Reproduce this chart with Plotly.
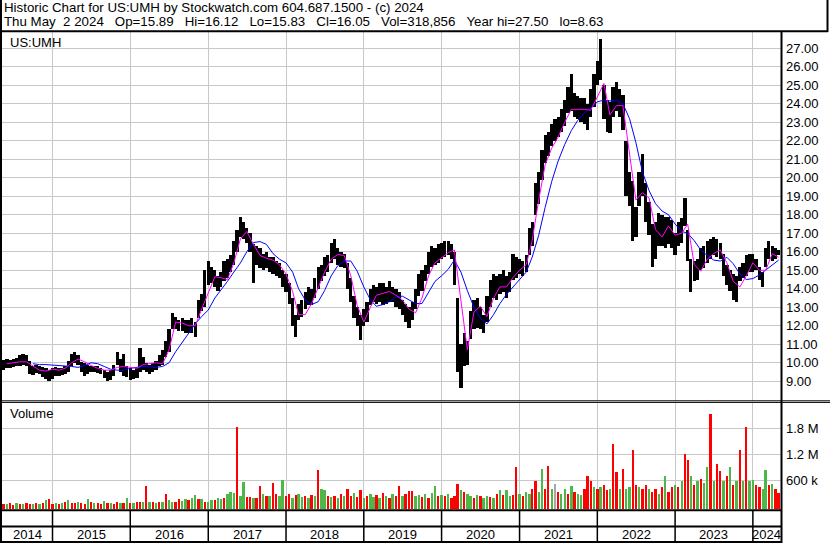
import plotly.graph_objects as go
import datetime as _dt

# ---------------- data ----------------
# semi-monthly periods from 2014-05-16 to 2024-05-01 (240 periods)
period_dates = []
_y, _m, _d = 2014, 5, 16
while (_y, _m, _d) <= (2024, 5, 1):
    period_dates.append(f"{_y:04d}-{_m:02d}-{_d:02d}")
    if _d == 1:
        _d = 16
    else:
        _d = 1
        _m += 1
        if _m == 13:
            _m, _y = 1, _y + 1

high_2014 = [10.15, 10.2, 10.15, 10.2, 10.25, 10.4, 10.45, 10.4, 10.1, 9.8, 9.9, 9.85, 9.75, 9.7, 9.6]
low_2014 = [9.6, 9.7, 9.7, 9.75, 9.8, 9.85, 9.9, 9.85, 9.4, 9.35, 9.45, 9.4, 9.25, 9.1, 9.0]
high_2015 = [9.7, 9.75, 9.7, 9.7, 9.8, 10.1, 10.5, 10.6, 10.4, 10.05, 10.0, 9.9, 9.8, 9.85, 9.8, 9.7, 9.6, 9.5, 9.6, 9.9, 10.6, 10.2, 10.5, 9.8]
low_2015 = [9.1, 9.3, 9.3, 9.35, 9.4, 9.5, 9.8, 10.0, 9.9, 9.5, 9.3, 9.4, 9.5, 9.5, 9.45, 9.4, 9.2, 9.0, 9.05, 9.3, 9.9, 9.5, 9.3, 9.25]
high_2016 = [9.7, 9.6, 9.7, 10.8, 10.3, 10.0, 9.9, 10.0, 10.1, 10.4, 10.7, 11.2, 11.8, 12.7, 12.5, 12.3, 12.4, 12.3, 12.3, 12.4, 12.2, 13.4, 13.7, 15.0]
low_2016 = [9.05, 9.1, 9.2, 9.5, 9.6, 9.5, 9.4, 9.5, 9.6, 9.8, 9.9, 10.3, 10.6, 11.8, 11.8, 11.7, 11.7, 11.6, 11.6, 11.6, 11.4, 12.4, 12.8, 13.0]
high_2017 = [15.5, 15.2, 15.0, 14.7, 14.9, 15.5, 15.6, 15.8, 16.6, 17.2, 17.9, 17.6, 17.3, 17.0, 16.4, 16.3, 16.2, 15.9, 16.0, 15.7, 15.7, 15.5, 15.4, 15.0]
low_2017 = [14.2, 14.3, 14.1, 13.9, 14.1, 14.4, 14.6, 14.9, 15.3, 16.0, 16.8, 16.7, 16.5, 16.0, 14.3, 15.3, 15.1, 15.0, 15.1, 14.9, 14.8, 14.7, 14.6, 14.1]
high_2018 = [14.8, 14.3, 13.5, 12.6, 13.2, 13.4, 13.8, 14.1, 14.0, 14.6, 15.2, 15.3, 15.7, 15.8, 16.5, 16.7, 16.2, 16.0, 15.9, 15.4, 14.6, 13.6, 13.0, 12.6]
low_2018 = [13.8, 13.2, 12.0, 11.4, 12.3, 12.5, 12.9, 13.1, 13.1, 13.5, 14.0, 14.4, 14.7, 14.9, 15.4, 15.6, 15.3, 15.2, 15.1, 14.0, 13.3, 12.4, 12.0, 11.25]
high_2019 = [12.9, 13.3, 14.0, 14.2, 14.1, 14.3, 14.3, 14.1, 14.4, 14.1, 14.0, 13.8, 13.4, 13.2, 13.0, 13.3, 14.0, 14.8, 15.0, 15.3, 16.0, 16.3, 16.2, 16.4]
low_2019 = [12.0, 12.2, 13.1, 13.3, 13.2, 13.3, 13.1, 13.2, 13.3, 13.3, 13.0, 12.9, 12.6, 12.2, 11.9, 12.3, 12.9, 13.6, 13.9, 14.4, 14.8, 15.2, 15.3, 15.4]
high_2020 = [16.5, 16.6, 16.6, 16.4, 16.0, 13.5, 11.0, 11.6, 11.2, 12.8, 13.4, 13.5, 13.0, 12.6, 13.6, 14.5, 14.8, 14.7, 14.8, 15.0, 14.7, 14.9, 15.9, 15.7]
low_2020 = [15.6, 15.7, 15.8, 15.6, 14.2, 9.5, 8.63, 9.8, 9.9, 11.3, 11.8, 11.9, 11.8, 11.6, 12.2, 13.0, 13.5, 13.4, 13.7, 13.8, 13.5, 13.8, 14.5, 14.6]
high_2021 = [15.6, 15.5, 15.8, 17.3, 17.6, 19.7, 20.3, 21.5, 22.3, 22.5, 22.9, 23.2, 23.3, 23.7, 24.2, 24.9, 25.6, 24.6, 24.4, 24.3, 24.3, 24.0, 24.8, 25.6]
low_2021 = [14.8, 14.7, 14.9, 15.8, 16.3, 18.0, 18.6, 19.9, 20.8, 21.2, 21.7, 22.0, 22.2, 22.5, 22.8, 23.5, 23.6, 23.3, 23.2, 23.0, 22.9, 22.6, 23.3, 23.8]
high_2022 = [26.3, 27.5, 25.0, 24.2, 24.1, 24.9, 25.2, 24.8, 24.5, 22.0, 20.3, 19.8, 18.4, 20.3, 21.3, 19.7, 18.7, 17.5, 17.6, 18.1, 18.0, 17.9, 17.9, 17.7]
low_2022 = [25.0, 25.3, 23.2, 22.5, 22.4, 23.3, 23.6, 23.3, 22.6, 19.0, 18.5, 16.6, 16.8, 18.5, 19.0, 17.6, 16.9, 15.2, 15.6, 16.3, 16.3, 16.2, 16.4, 16.2]
high_2023 = [17.0, 17.6, 17.8, 18.9, 17.2, 15.6, 15.5, 15.6, 16.2, 16.3, 16.6, 16.7, 16.8, 16.7, 16.5, 15.9, 15.3, 15.0, 14.8, 14.7, 15.2, 15.4, 15.8, 15.9]
low_2023 = [15.8, 16.3, 16.5, 17.4, 15.5, 13.8, 14.4, 14.5, 15.0, 15.1, 15.4, 15.6, 15.8, 15.7, 15.6, 14.7, 14.2, 13.9, 13.4, 13.3, 14.4, 14.6, 14.7, 14.9]
high_2024 = [15.9, 15.6, 15.2, 14.9, 16.2, 16.6, 16.3, 16.2, 16.12]
low_2024 = [14.9, 15.0, 14.5, 14.1, 15.2, 15.6, 15.5, 15.6, 15.83]

price_high = (high_2014 + high_2015 + high_2016 + high_2017 + high_2018 + high_2019
              + high_2020 + high_2021 + high_2022 + high_2023 + high_2024)
price_low = (low_2014 + low_2015 + low_2016 + low_2017 + low_2018 + low_2019
             + low_2020 + low_2021 + low_2022 + low_2023 + low_2024)

# volume in thousands of shares, and bar colour code (G up, R down, Y unchanged)
vol_2014 = [70, 60, 80, 50, 90, 60, 70, 80, 60, 70, 90, 60, 80, 150, 180]
vol_2015 = [60, 80, 70, 90, 100, 160, 90, 80, 100, 90, 70, 180, 120, 80, 90, 70, 130, 80, 90, 70, 110, 90, 80, 200]
vol_2016 = [90, 80, 100, 110, 100, 490, 100, 120, 90, 110, 120, 300, 150, 120, 110, 180, 130, 180, 150, 200, 280, 180, 180, 120]
vol_2017 = [110, 150, 160, 200, 180, 200, 300, 340, 330, 1840, 250, 580, 220, 230, 200, 200, 470, 300, 250, 250, 560, 300, 250, 620]
vol_2018 = [250, 300, 200, 280, 300, 220, 250, 200, 280, 260, 860, 420, 380, 250, 220, 260, 200, 300, 240, 420, 260, 320, 220, 380]
vol_2019 = [200, 250, 300, 220, 280, 200, 320, 250, 200, 300, 250, 490, 260, 300, 360, 360, 250, 280, 220, 300, 200, 330, 470, 250]
vol_2020 = [280, 250, 300, 200, 250, 520, 390, 350, 300, 250, 200, 280, 250, 200, 250, 230, 200, 300, 380, 280, 380, 250, 280, 920]
vol_2021 = [300, 250, 350, 300, 420, 590, 350, 880, 400, 950, 400, 530, 350, 300, 400, 300, 470, 350, 300, 280, 400, 700, 590, 450]
vol_2022 = [400, 450, 500, 380, 400, 1440, 800, 400, 880, 400, 450, 1320, 500, 450, 400, 500, 420, 350, 400, 300, 450, 700, 350, 450]
vol_2023 = [500, 450, 600, 1210, 1080, 700, 500, 600, 650, 550, 930, 2130, 600, 980, 820, 600, 700, 920, 500, 600, 1300, 600, 1840, 600]
vol_2024 = [620, 500, 450, 400, 840, 500, 530, 400, 319]
volume_k = (vol_2014 + vol_2015 + vol_2016 + vol_2017 + vol_2018 + vol_2019
            + vol_2020 + vol_2021 + vol_2022 + vol_2023 + vol_2024)
vol_dir = ("RGRRGRGRRGRGRGR"
           "RGRGRGRRGRRGRGRRGRGRRGRG"
           "RGRRGRGRGRGRGGRRGGRGGRGR"
           "GGRGGRGGGRGGRRGRRGRGRRGG"
           "RRGRGGRGRGRGGRGRGRGRRGRR"
           "GRGGRGRGRGRRGRRRGGRGRGGR"
           "GRGRRRGRGGRGRGGRGRGRGGRR"
           "GRGGRRGGRRGYRGGRGRGGRRRG"
           "RGRRGRRGRGGRRGRRGRRGRGRR"
           "GRGRRGRGRGGRGRRGRGRGRGRG"
           "GRRGGRGRR")

# monthly moving-average readings
ma_long_dates = ["2014-10-01", "2014-11-01", "2014-12-01"] + [
    f"{yy}-{mm:02d}-01" for yy in range(2015, 2025) for mm in range(1, 13) if (yy, mm) <= (2024, 5)]
ma_long = [9.95, 9.9, 9.9,
           9.88, 9.87, 9.85, 9.8, 9.75, 9.85, 10.0, 9.95, 9.8, 9.65, 9.6, 9.6,
           9.7, 9.75, 9.8, 9.78, 9.75, 9.8, 10.0, 10.6, 11.1, 11.6, 12.1, 12.5,
           12.85, 13.5, 13.9, 14.4, 14.9, 15.4, 16.0, 16.5, 16.55, 16.4, 15.9, 15.6,
           15.4, 14.9, 14.0, 13.4, 13.15, 13.3, 13.9, 14.7, 15.25, 15.5, 15.5, 14.95,
           14.1, 13.4, 13.05, 13.15, 13.3, 13.55, 13.6, 13.4, 13.2, 13.2, 13.8, 14.4,
           14.7, 15.05, 15.55, 14.9, 13.9, 13.0, 12.4, 12.1, 12.6, 13.2, 13.7, 14.1,
           14.5, 14.9, 15.7, 16.9, 18.4, 19.8, 20.9, 21.8, 22.55, 23.1, 23.5, 23.8,
           24.1, 24.2, 24.15, 24.2, 24.0, 23.2, 21.9, 20.3, 19.3, 18.6, 18.2, 18.0,
           17.5, 17.1, 17.0, 16.6, 16.1, 15.8, 15.55, 15.5, 15.7, 15.35, 14.8, 14.5,
           14.55, 14.75, 15.0, 15.25, 15.55]
ma_short_dates = ["2014-06-01", "2014-07-01", "2014-08-01", "2014-09-01", "2014-10-01",
                  "2014-11-01", "2014-12-01"] + ma_long_dates[3:]
ma_short = [9.95, 10.0, 10.05, 10.05, 9.85, 9.6, 9.55,
            9.65, 9.6, 9.7, 10.0, 10.2, 10.05, 9.85, 9.7, 9.6, 9.6, 9.75, 9.8,
            9.75, 9.7, 9.9, 9.95, 10.0, 9.95, 10.7, 12.2, 12.15, 12.0, 12.0, 12.9,
            13.8, 14.65, 14.6, 14.5, 15.4, 16.7, 17.1, 16.4, 15.8, 15.65, 15.55, 15.3,
            14.8, 13.85, 12.6, 12.6, 13.2, 14.1, 14.9, 15.6, 15.85, 15.8, 14.7, 13.1,
            12.2, 13.0, 13.65, 13.75, 13.85, 13.65, 13.4, 12.9, 12.7, 13.5, 14.7, 15.4,
            15.7, 15.95, 16.1, 13.3, 10.7, 12.75, 13.05, 12.5, 13.5, 14.1, 14.1, 14.6,
            15.0, 15.3, 16.6, 18.8, 20.7, 21.6, 22.2, 23.0, 23.7, 23.7, 23.7, 23.65,
            24.4, 25.1, 23.4, 23.9, 23.9, 21.3, 18.8, 19.2, 18.9, 17.2, 16.8, 17.4,
            16.9, 17.0, 17.5, 15.3, 14.95, 15.6, 15.9, 16.1, 15.4, 14.4, 14.1, 14.7,
            15.4, 15.0, 15.0, 15.9, 15.7]

price_ticks = list(range(9, 28))
vol_ticks = [600, 1200, 1800]
vol_tick_text = ["600 k", "1.2 M", "1.8 M"]
year_labels = [str(y) for y in range(2014, 2025)]

header_1 = "Historic Chart for US:UMH by Stockwatch.com 604.687.1500 - (c) 2024"
header_2 = ("Thu May\u00a0\u00a02 2024\u00a0\u00a0\u00a0Op=15.89\u00a0\u00a0\u00a0Hi=16.12\u00a0\u00a0\u00a0"
            "Lo=15.83\u00a0\u00a0\u00a0Cl=16.05\u00a0\u00a0\u00a0Vol=318,856\u00a0\u00a0\u00a0"
            "Year hi=27.50\u00a0\u00a0\u00a0lo=8.63")

# ---------------- figure ----------------
W, H = 830, 543
ML, MR, MT, MB = 2, 49, 32, 34
PW, PH = W - ML - MR, H - MT - MB
X_START, X_END = "2014-05-09", "2024-05-12"
DAY = 86400000
VOL_BASE = -62
FONT = "Liberation Sans, Arial, sans-serif"
GRID = "#c8c8c8"


def px_x(X):
    return (X - ML) / PW


def px_y(Y):
    return (H - MB - Y) / PH


fig = go.Figure()
fig.add_trace(go.Bar(
    x=period_dates, y=[h - l for h, l in zip(price_high, price_low)], base=price_low,
    width=15.2 * DAY, marker=dict(color="black", line=dict(width=0)),
    xaxis="x", yaxis="y", hoverinfo="skip"))
fig.add_trace(go.Scatter(x=ma_long_dates, y=ma_long, mode="lines",
                         line=dict(color="#0000ff", width=1), xaxis="x", yaxis="y"))
fig.add_trace(go.Scatter(x=ma_short_dates, y=ma_short, mode="lines",
                         line=dict(color="#ff00ff", width=1), xaxis="x", yaxis="y"))
cmap = {"G": "#4cb848", "R": "#ff0000", "Y": "#a8a8a8"}
fig.add_trace(go.Bar(
    x=period_dates, y=[v - VOL_BASE for v in volume_k], base=VOL_BASE,
    width=11 * DAY, marker=dict(color=[cmap[c] for c in vol_dir], line=dict(width=0)),
    xaxis="x2", yaxis="y2", hoverinfo="skip"))

year_starts = [f"{y}-01-01" for y in range(2015, 2025)]
axis_common = dict(type="date", range=[X_START, X_END], tickvals=year_starts,
                   showticklabels=False, showgrid=True, gridcolor=GRID, gridwidth=1,
                   zeroline=False, showline=False, ticks="")
fig.update_layout(
    width=W, height=H, margin=dict(l=ML, r=MR, t=MT, b=MB),
    paper_bgcolor="white", plot_bgcolor="white", showlegend=False, bargap=0,
    font=dict(family=FONT, size=13, color="black"),
    xaxis=dict(domain=[0, 1], anchor="y", **axis_common),
    xaxis2=dict(domain=[0, 1], anchor="y2", matches="x", **axis_common),
    yaxis=dict(domain=[px_y(400.5), 1], range=[7.96, 27.88], side="right",
               tickvals=price_ticks, ticktext=[f"{v:.2f}" for v in price_ticks],
               showgrid=True, gridcolor=GRID, zeroline=False, ticks="",
               ticklabelstandoff=4, tickfont=dict(family=FONT, size=13, color="black")),
    yaxis2=dict(domain=[0, px_y(402.5)], range=[VOL_BASE, 2395], side="right",
                tickvals=vol_ticks, ticktext=vol_tick_text,
                showgrid=True, gridcolor=GRID, zeroline=False, ticks="",
                ticklabelstandoff=4, tickfont=dict(family=FONT, size=13, color="black")),
)

shapes = []


def hline(Y, x0, x1, w):
    shapes.append(dict(type="line", xref="paper", yref="paper", x0=px_x(x0), x1=px_x(x1),
                       y0=px_y(Y), y1=px_y(Y), line=dict(color="black", width=w)))


def vline(X, y0, y1, w):
    shapes.append(dict(type="line", xref="paper", yref="paper", x0=px_x(X), x1=px_x(X),
                       y0=px_y(y0), y1=px_y(y1), line=dict(color="black", width=w)))


hline(31.3, 0, 828, 2)        # header bottom
vline(827.5, 0, 32, 2)        # header right
vline(1, 0, 543, 2)           # left border
vline(781.5, 31, 543, 2)      # right border of plot
hline(400.8, 0, 830, 1)       # double separator
hline(402.4, 0, 830, 1)
hline(510.2, 0, 782, 2)       # date strip lines
hline(526.6, 0, 782, 2)
hline(542.0, 0, 782, 2)
for ys in year_starts:
    shapes.append(dict(type="line", xref="x", yref="paper", x0=ys, x1=ys,
                       y0=px_y(542), y1=px_y(510), line=dict(color="black", width=1.5)))
fig.update_layout(shapes=shapes)

ann = []
ann.append(dict(text=header_1, xref="paper", yref="paper", x=px_x(2), y=px_y(7),
                xanchor="left", yanchor="middle", showarrow=False, font=dict(size=13.3)))
ann.append(dict(text=header_2, xref="paper", yref="paper", x=px_x(2), y=px_y(21.5),
                xanchor="left", yanchor="middle", showarrow=False, font=dict(size=13.3)))
ann.append(dict(text="US:UMH", xref="paper", yref="paper", x=px_x(8), y=px_y(42.5),
                xanchor="left", yanchor="middle", showarrow=False))
ann.append(dict(text="Volume", xref="paper", yref="paper", x=px_x(8), y=px_y(413),
                xanchor="left", yanchor="middle", showarrow=False))


def _ts(s):
    return _dt.datetime.fromisoformat(s).timestamp()


# year labels centred in each year cell of the date strip
bounds = [X_START] + year_starts + [X_END]
for i, lab in enumerate(year_labels):
    a, b = _ts(bounds[i]), _ts(bounds[i + 1])
    mid = _dt.datetime.fromtimestamp((a + b) / 2).strftime("%Y-%m-%d %H:%M")
    ann.append(dict(text=lab, xref="x", yref="paper", x=mid, y=px_y(534.5),
                    xanchor="center", yanchor="middle", showarrow=False))
fig.update_layout(annotations=ann)

fig.write_html("out.html", config={"displayModeBar": False},
               post_script="document.body.style.margin='0';document.body.style.overflow='hidden';")
